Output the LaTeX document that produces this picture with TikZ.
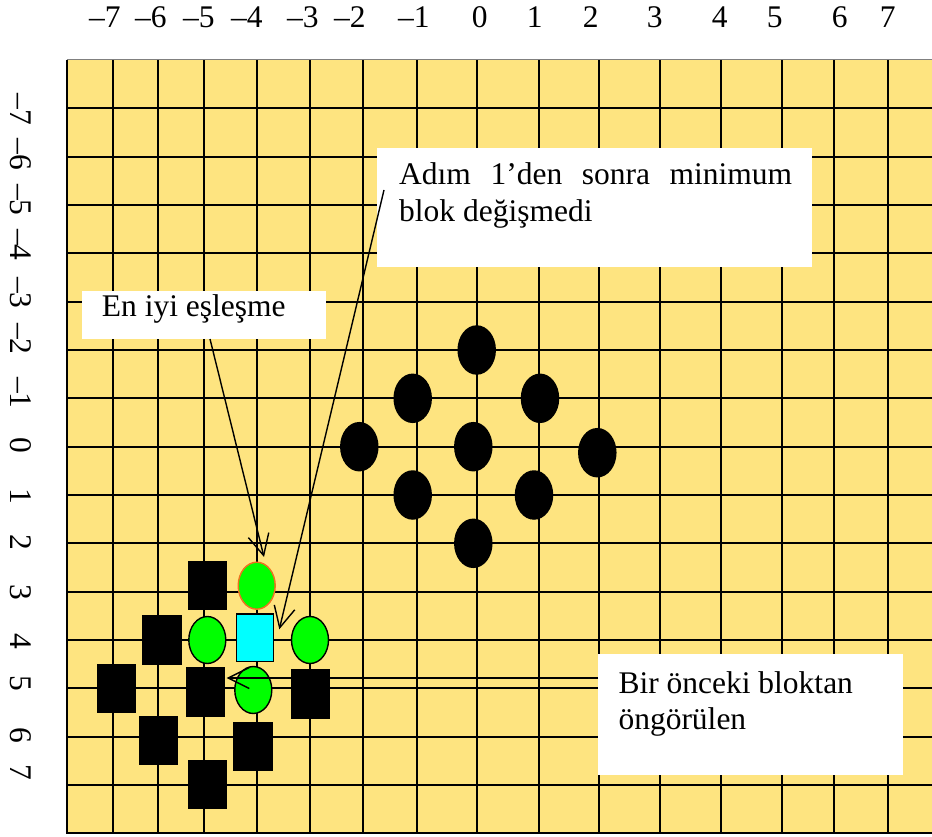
\documentclass[tikz,border=0pt]{standalone}
\usepackage{fontspec}
\setmainfont{Liberation Serif}
\usetikzlibrary{arrows.meta,shapes.geometric}
\definecolor{gridyellow}{RGB}{254,228,128}
\definecolor{mgreen}{RGB}{0,255,0}
\definecolor{mcyan}{RGB}{0,255,255}
\definecolor{morange}{RGB}{240,112,32}
\begin{document}
\begin{tikzpicture}[x=1pt,y=-1pt,
  gridline/.style={line width=1.8pt,black},
  lbl/.style={font=\fontsize{31.5}{36}\selectfont,inner sep=0pt},
  bdot/.style={ellipse,fill=black,inner sep=0pt,minimum width=38.5pt,minimum height=49.5pt},
  gdot/.style={ellipse,fill=mgreen,draw=black,line width=1.4pt,inner sep=0pt,minimum width=37pt,minimum height=47pt},
  bsq/.style={rectangle,fill=black,inner sep=0pt,minimum width=39.3pt,minimum height=49.5pt},
  csq/.style={rectangle,fill=mcyan,draw=black,line width=1.4pt,inner sep=0pt,minimum width=37pt,minimum height=47.5pt},
  wbox/.style={rectangle,fill=white,inner sep=0pt},
  arr/.style={line width=1.4pt,black,-{Straight Barb[length=21pt,width=21pt]}}
]
\useasboundingbox (0,0) rectangle (932,837);
% board
\fill[gridyellow] (66.7,60) rectangle (932,833.3);
\foreach \x in {112.7,158.3,204,257.3,310,363.3,417.3,477.3,538.7,599.3,660,720.7,781.7,834,888.3}
  \draw[gridline] (\x,60) -- (\x,833.3);
\foreach \k in {1,...,15}
  \draw[gridline] (66.7,{60+48.33*\k}) -- (932,{60+48.33*\k});
\draw[gridline] (66.7,60) -- (66.7,833.3) -- (932,833.3);
\draw[gray,line width=1pt] (66.7,60) -- (932,60);
% top labels
\foreach \xc/\t [count=\i] in {113/–7,159/–6,207/–5,255/–4,311/–3,358/–2,422/–1,480/0,535/1,591/2,655/3,720/4,775/5,840/6,888/7}
  \node[lbl,anchor=base east] (top\i) at ({\xc+7.9},27.5) {\t};
% left labels
\foreach \yc/\t [count=\i] in {117.5/–7,162.5/–6,208/–5,253/–4,301/–3,347/–2,401/–1,446/0,497/1,543/2,593/3,642/4,684/5,736/6,773/7}
  \node[lbl,rotate=-90,anchor=base east] (left\i) at (10.5,{\yc+7.9}) {\t};
% black ellipses
\node[bdot] (d1) at (476.7,350) {};
\node[bdot] (d2) at (412.7,398.3) {};
\node[bdot] (d3) at (540,398.3) {};
\node[bdot] (d4) at (359.3,446.7) {};
\node[bdot] (d5) at (473.3,446.7) {};
\node[bdot] (d6) at (597.3,452.7) {};
\node[bdot] (d7) at (412.7,495) {};
\node[bdot] (d8) at (534,495) {};
\node[bdot] (d9) at (473.3,543.3) {};
% black squares
\node[bsq] (s1) at (207.7,585.7) {};
\node[bsq] (s2) at (162,640) {};
\node[bsq] (s3) at (116.3,688.3) {};
\node[bsq] (s4) at (205.3,692) {};
\node[bsq] (s5) at (310.3,694.2) {};
\node[bsq] (s6) at (158.3,740.3) {};
\node[bsq] (s7) at (253,746.7) {};
\node[bsq] (s8) at (207.5,784.7) {};
% green ellipses and cyan block
\node[gdot,draw=morange] (g1) at (256.7,585.7) {};
\node[gdot] (g2) at (207.3,640) {};
\node[gdot] (g3) at (310,640) {};
\node[gdot] (g4) at (253.3,690) {};
\node[csq] (c1) at (254.8,637.8) {};
% callout boxes
\node[wbox,minimum width=244pt,minimum height=48pt] (box1) at (204,315) {};
\node[wbox,minimum width=435pt,minimum height=119pt] (box2) at (594.5,207.5) {};
\node[wbox,minimum width=305pt,minimum height=121pt] (box3) at (750.5,714.5) {};
\node[lbl,anchor=base west] (t1) at (101.7,316.7) {En iyi eşleşme};
\node[lbl,anchor=base west] (t2a) at (399,185) {\makebox[393pt][s]{Adım 1’den sonra minimum}};
\node[lbl,anchor=base west] (t2b) at (399,221.7) {blok değişmedi};
\node[lbl,anchor=base west] (t3a) at (618.3,693.3) {Bir önceki bloktan};
\node[lbl,anchor=base west] (t3b) at (618.3,729.3) {öngörülen};
% arrows
\coordinate (a1s) at (210,339);
\coordinate (a1e) at (264,557);
\coordinate (a2s) at (384,190);
\coordinate (a2e) at (279.3,629.3);
\coordinate (a3s) at (598,678);
\coordinate (a3e) at (226.7,678);
\draw[arr] (a1s) -- (a1e);
\draw[arr] (a2s) -- (a2e);
\draw[arr] (a3s) -- (a3e);
\end{tikzpicture}
\end{document}
